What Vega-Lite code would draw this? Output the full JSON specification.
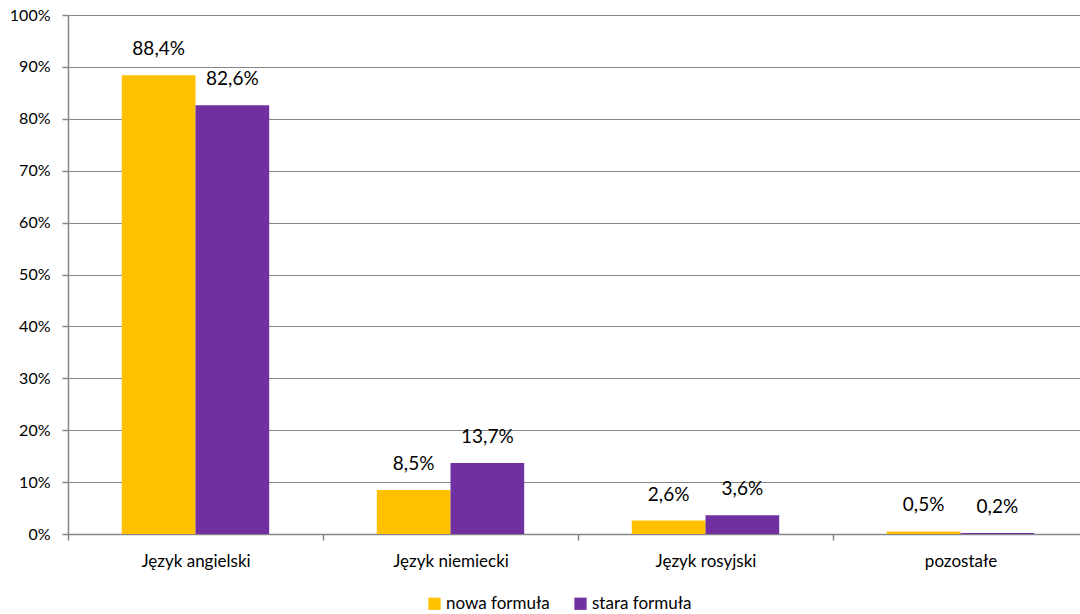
{
  "$schema": "https://vega.github.io/schema/vega-lite/v6.json",
  "width": 1020,
  "height": 519,
  "autosize": {"type": "none"},
  "padding": {"left": 68, "top": 15, "right": 0, "bottom": 80},
  "background": "white",
  "config": {
    "locale": {"number": {"decimal": ",", "thousands": " ", "grouping": [3], "currency": ["", " zł"]}},
    "font": "Lato",
    "view": {"stroke": null},
    "axis": {"labelFont": "Lato", "labelColor": "#000000", "labelFontSize": 16, "domainColor": "#868686", "tickColor": "#868686", "gridColor": "#868686", "domainWidth": 1.5, "tickWidth": 1.5, "gridWidth": 1.2}
  },
  "data": {"values": [
    {"kategoria": "Język angielski", "formula": "nowa formuła", "v": 0.884},
    {"kategoria": "Język angielski", "formula": "stara formuła", "v": 0.826},
    {"kategoria": "Język niemiecki", "formula": "nowa formuła", "v": 0.085},
    {"kategoria": "Język niemiecki", "formula": "stara formuła", "v": 0.137},
    {"kategoria": "Język rosyjski", "formula": "nowa formuła", "v": 0.026},
    {"kategoria": "Język rosyjski", "formula": "stara formuła", "v": 0.036},
    {"kategoria": "pozostałe", "formula": "nowa formuła", "v": 0.005},
    {"kategoria": "pozostałe", "formula": "stara formuła", "v": 0.002}
  ]},
  "encoding": {
    "x": {"field": "kategoria", "type": "nominal", "sort": null,
      "scale": {"paddingInner": 0, "paddingOuter": 0},
      "axis": {"title": null, "labelAngle": 0, "tickBand": "extent", "tickSize": 6, "labelPadding": 13, "labelFontSize": 17}},
    "xOffset": {"field": "formula", "type": "nominal", "sort": ["nowa formuła", "stara formuła"],
      "scale": {"paddingOuter": 0.73, "paddingInner": 0}},
    "y": {"field": "v", "type": "quantitative",
      "scale": {"domain": [0, 1], "nice": false},
      "axis": {"title": null, "format": ".0%", "values": [0, 0.1, 0.2, 0.3, 0.4, 0.5, 0.6, 0.7, 0.8, 0.9, 1], "tickSize": 6, "labelPadding": 12, "grid": true}}
  },
  "layer": [
    {
      "mark": {"type": "bar"},
      "encoding": {
        "color": {"field": "formula", "type": "nominal", "sort": ["nowa formuła", "stara formuła"],
          "scale": {"domain": ["nowa formuła", "stara formuła"], "range": ["#FFC000", "#7030A0"]},
          "legend": {"title": null, "orient": "none", "direction": "horizontal", "legendX": 358, "legendY": 580,
            "symbolType": "square", "symbolSize": 150, "symbolStrokeWidth": 0, "labelFontSize": 17, "labelFont": "Lato", "labelColor": "#000000", "columnPadding": 22, "labelOffset": 3}}
      }
    },
    {
      "mark": {"type": "text", "baseline": "middle", "dy": -26, "fontSize": 19, "font": "Lato", "color": "#000000"},
      "encoding": {"text": {"field": "v", "type": "quantitative", "format": ".1%"}}
    }
  ]
}
